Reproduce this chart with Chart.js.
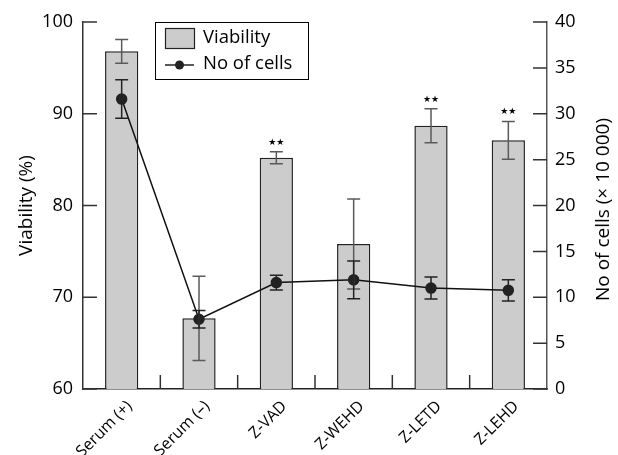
<!DOCTYPE html>
<html>
<head>
<meta charset="utf-8">
<script src="https://cdn.jsdelivr.net/npm/chart.js@4/dist/chart.umd.min.js"></script>
<style>
html,body{margin:0;padding:0;background:#fff;}
#wrap{width:618px;height:455px;position:relative;}
</style>
</head>
<body>
<div id="wrap"><canvas id="c" width="618" height="455"></canvas></div>
<script>
const categories = ['Serum (+)', 'Serum (–)', 'Z-VAD', 'Z-WEHD', 'Z-LETD', 'Z-LEHD'];
const viability = [96.8, 67.7, 85.2, 75.8, 88.7, 87.1];
const viabilityErr = [1.3, 4.6, 0.65, 4.9, 1.85, 2.05];
const cells = [31.6, 7.6, 11.6, 11.9, 11.0, 10.75];
const cellsErr = [2.1, 0.95, 0.8, 2.05, 1.2, 1.15];
const significance = ['', '', '★★', '', '★★', '★★'];
const leftTicks = [60, 70, 80, 90, 100];
const rightTicks = [0, 5, 10, 15, 20, 25, 30, 35, 40];
const leftTitle = 'Viability (%)';
const rightTitle = 'No of cells (× 10 000)';

const FONT = "'Open Sans', 'DejaVu Sans', sans-serif";

const extras = {
  id: 'extras',
  afterDatasetsDraw(chart) {
    const ctx = chart.ctx;
    const y = chart.scales.y;
    const barMeta = chart.getDatasetMeta(0);
    ctx.save();
    ctx.strokeStyle = '#5a5a5a';
    ctx.lineWidth = 1.5;
    barMeta.data.forEach((el, i) => {
      const px = el.x;
      const hi = y.getPixelForValue(viability[i] + viabilityErr[i]);
      const lo = y.getPixelForValue(viability[i] - viabilityErr[i]);
      ctx.beginPath();
      ctx.moveTo(px, hi); ctx.lineTo(px, lo);
      ctx.moveTo(px - 6.5, hi); ctx.lineTo(px + 6.5, hi);
      ctx.moveTo(px - 6.5, lo); ctx.lineTo(px + 6.5, lo);
      ctx.stroke();
      if (significance[i]) {
        ctx.fillStyle = '#000';
        ctx.font = "9px 'DejaVu Sans', sans-serif";
        ctx.textAlign = 'center';
        ctx.textBaseline = 'bottom';
        ctx.fillText(significance[i], px, hi - 5);
      }
    });
    ctx.restore();
  },
  afterDraw(chart) {
    const ctx = chart.ctx;
    const y = chart.scales.y, y2 = chart.scales.y2, x = chart.scales.x;
    const area = chart.chartArea;
    const lineMeta = chart.getDatasetMeta(1);
    ctx.save();
    ctx.strokeStyle = '#222';
    ctx.lineWidth = 1.5;
    lineMeta.data.forEach((el, i) => {
      const px = el.x;
      const hi = y2.getPixelForValue(cells[i] + cellsErr[i]);
      const lo = y2.getPixelForValue(cells[i] - cellsErr[i]);
      ctx.beginPath();
      ctx.moveTo(px, hi); ctx.lineTo(px, lo);
      ctx.moveTo(px - 6.5, hi); ctx.lineTo(px + 6.5, hi);
      ctx.moveTo(px - 6.5, lo); ctx.lineTo(px + 6.5, lo);
      ctx.stroke();
    });
    ctx.strokeStyle = '#333';
    ctx.lineWidth = 1.5;
    ctx.beginPath();
    leftTicks.forEach(v => {
      const py = y.getPixelForValue(v);
      ctx.moveTo(area.left, py); ctx.lineTo(area.left + 14, py);
    });
    rightTicks.forEach(v => {
      const py = y2.getPixelForValue(v);
      ctx.moveTo(area.right - 14, py); ctx.lineTo(area.right, py);
    });
    for (let i = 0; i < categories.length - 1; i++) {
      const bx = (x.getPixelForValue(i) + x.getPixelForValue(i + 1)) / 2;
      ctx.moveTo(bx, area.bottom); ctx.lineTo(bx, area.bottom - 14);
    }
    ctx.stroke();
    // axis titles
    ctx.fillStyle = '#000';
    ctx.font = "19px " + FONT;
    ctx.textAlign = 'center';
    ctx.textBaseline = 'middle';
    const midY = (area.top + area.bottom) / 2;
    ctx.save(); ctx.translate(27, midY); ctx.rotate(-Math.PI / 2); ctx.fillText(leftTitle, 0, 0); ctx.restore();
    ctx.save(); ctx.translate(604, midY + 4); ctx.rotate(-Math.PI / 2); ctx.fillText(rightTitle, 0, 0); ctx.restore();
    // legend
    const lx = 155, ly = 22, lw = 153, lh = 57;
    ctx.fillStyle = '#fff';
    ctx.fillRect(lx, ly, lw, lh);
    ctx.strokeStyle = '#000';
    ctx.lineWidth = 1;
    ctx.strokeRect(lx + 0.5, ly + 0.5, lw, lh);
    ctx.fillStyle = '#cccccc';
    ctx.fillRect(165, 28, 29, 20);
    ctx.lineWidth = 1.2;
    ctx.strokeStyle = '#222';
    ctx.strokeRect(165.5, 28.5, 29, 20);
    ctx.beginPath();
    ctx.lineWidth = 1.5;
    ctx.moveTo(165, 65); ctx.lineTo(194, 65);
    ctx.stroke();
    ctx.fillStyle = '#222';
    ctx.beginPath(); ctx.arc(179.5, 65, 4.5, 0, Math.PI * 2); ctx.fill();
    ctx.fillStyle = '#000';
    ctx.font = "18.5px " + FONT;
    ctx.textAlign = 'left';
    ctx.textBaseline = 'middle';
    ctx.fillText(chart.data.datasets[0].label, 203, 38);
    ctx.fillText(chart.data.datasets[1].label, 203, 64);
    ctx.restore();
  }
};

new Chart(document.getElementById('c'), {
  data: {
    labels: categories,
    datasets: [
      {
        type: 'bar', label: 'Viability', data: viability, yAxisID: 'y',
        backgroundColor: '#cccccc', borderColor: '#222', borderWidth: 1.5,
        barPercentage: 0.43, categoryPercentage: 1.0, order: 2
      },
      {
        type: 'line', label: 'No of cells', data: cells, yAxisID: 'y2',
        borderColor: '#111', borderWidth: 1.5, pointRadius: 5,
        pointBackgroundColor: '#222', pointBorderColor: '#222',
        tension: 0, order: 1
      }
    ]
  },
  options: {
    responsive: false, animation: false,
    layout: { padding: { top: 22, left: 0, right: 0, bottom: 0 } },
    plugins: { legend: { display: false }, tooltip: { enabled: false } },
    scales: {
      x: {
        type: 'category',
        grid: { display: false, drawTicks: false },
        border: { display: true, color: '#222', width: 1.5 },
        ticks: { color: '#000', font: { family: FONT, size: 16 }, minRotation: 45, maxRotation: 45, padding: 8, labelOffset: 8 },
        afterFit(s) { s.height = 66; }
      },
      y: {
        position: 'left', min: 60, max: 100,
        afterBuildTicks(s) { s.ticks = leftTicks.map(v => ({ value: v })); },
        grid: { display: false, drawTicks: false },
        border: { display: true, color: '#333', width: 1.5 },
        ticks: { color: '#000', font: { family: FONT, size: 18 }, padding: 10 },
        afterFit(s) { s.width = 83; }
      },
      y2: {
        position: 'right', min: 0, max: 40,
        afterBuildTicks(s) { s.ticks = rightTicks.map(v => ({ value: v })); },
        grid: { display: false, drawTicks: false, drawOnChartArea: false },
        border: { display: true, color: '#555', width: 1.5 },
        ticks: { color: '#000', font: { family: FONT, size: 18 }, padding: 8 },
        afterFit(s) { s.width = 71; }
      }
    }
  },
  plugins: [extras]
});
</script>
</body>
</html>
